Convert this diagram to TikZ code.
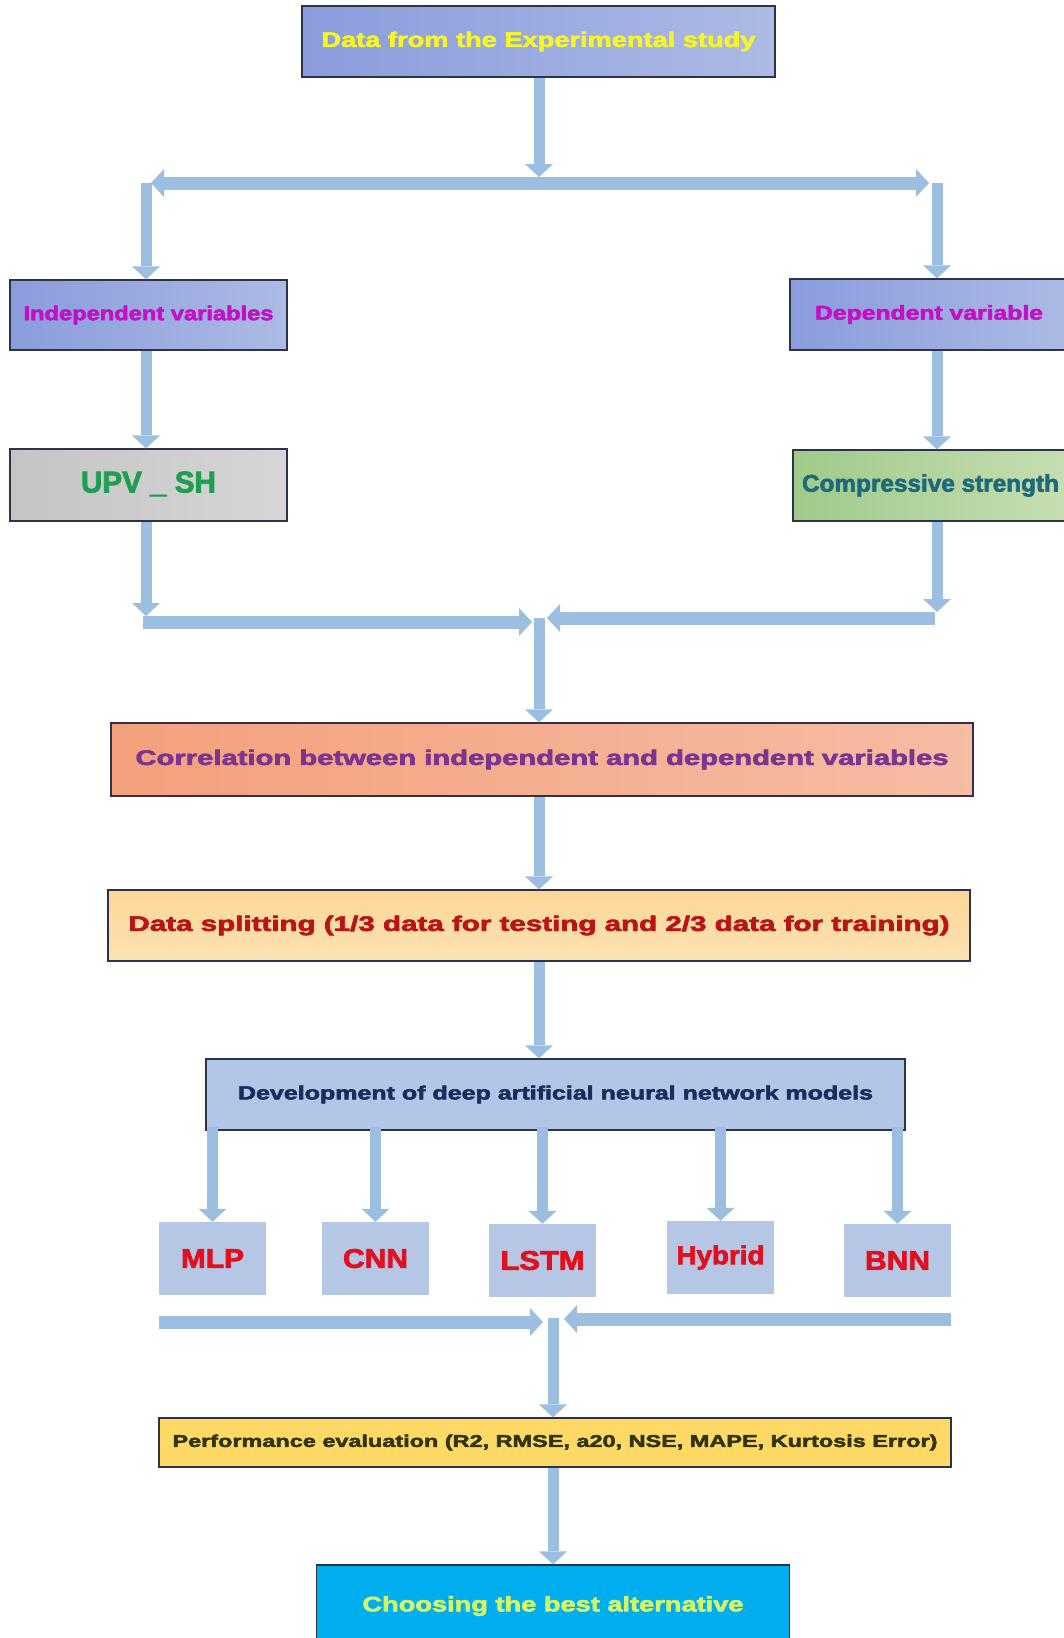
\documentclass[tikz,border=0pt]{standalone}
\usepackage{fontspec}
\setmainfont{Liberation Sans}
\newfontfamily\hv{Liberation Sans}[BoldFeatures={FakeBold=2.5}]
\usepackage{graphicx}
\usetikzlibrary{arrows.meta}

\definecolor{arr}{RGB}{155,190,225}
\definecolor{edge}{RGB}{45,50,75}
\definecolor{perL}{RGB}{138,156,220}
\definecolor{perR}{RGB}{172,186,228}
\definecolor{grayL}{RGB}{196,196,196}
\definecolor{grayR}{RGB}{214,214,214}
\definecolor{grnL}{RGB}{160,202,138}
\definecolor{grnR}{RGB}{198,222,178}
\definecolor{salL}{RGB}{244,160,124}
\definecolor{salR}{RGB}{246,188,164}
\definecolor{peachT}{RGB}{252,214,150}
\definecolor{peachB}{RGB}{252,226,180}
\definecolor{devfill}{RGB}{180,198,231}
\definecolor{modfill}{RGB}{182,199,230}
\definecolor{goldfill}{RGB}{255,217,102}
\definecolor{cyanfill}{RGB}{0,174,239}
\definecolor{tyellow}{RGB}{245,245,40}
\definecolor{tmagenta}{RGB}{196,16,196}
\definecolor{tgreen}{RGB}{30,158,78}
\definecolor{tteal}{RGB}{31,106,122}
\definecolor{tpurple}{RGB}{122,53,144}
\definecolor{tdred}{RGB}{186,20,20}
\definecolor{tnavy}{RGB}{28,43,94}
\definecolor{tred}{RGB}{224,16,30}
\definecolor{tolive}{RGB}{50,52,10}
\definecolor{tlime}{RGB}{212,244,106}

\newcommand\fitt[3]{\resizebox{#1pt}{\height}{\fontsize{#2}{#2}\hv\bfseries #3}}

\tikzset{
  box/.style={draw=edge, line width=1.3pt, inner sep=0pt, align=center},
  modbox/.style={fill=modfill, inner sep=0pt, minimum width=107pt, minimum height=73pt, text=tred},
  conn/.style={draw=arr, line width=11pt, -{Triangle[width=28pt,length=13pt,line width=0pt]}},
  bararrow/.style={draw=arr, line width=13pt, -{Triangle[width=28pt,length=13pt,line width=0pt]}}
}

\begin{document}
\begin{tikzpicture}[x=1pt,y=-1pt]
\useasboundingbox (0,0) rectangle (1064,1638);
\clip (0,0) rectangle (1064,1638);
\fill[white] (0,0) rectangle (1064,1638);

% nodes
\node[box, left color=perL, right color=perR, minimum width=473pt, minimum height=71pt, text=tyellow] (top) at (538.5,41.5) {\fitt{434}{21}{Data from the Experimental study}};

\node[box, left color=perL, right color=perR, minimum width=277pt, minimum height=70pt, text=tmagenta] (indep) at (148.5,315) {\fitt{250}{20}{Independent variables}};
\node[box, left color=perL, right color=perR, minimum width=278pt, minimum height=71pt, text=tmagenta] (dep) at (929,314.5) {\fitt{228}{20}{Dependent variable}};

\node[box, left color=grayL, right color=grayR, minimum width=277pt, minimum height=72pt, text=tgreen] (upv) at (148.5,485) {\raisebox{6pt}{\fitt{135}{30}{UPV \_ SH}}};
\node[box, left color=grnL, right color=grnR, minimum width=275pt, minimum height=71pt, text=tteal] (comp) at (930.5,485.5) {\fitt{257}{24}{Compressive strength}};

\node[box, left color=salL, right color=salR, minimum width=862pt, minimum height=73pt, text=tpurple] (corr) at (542,759.5) {\fitt{813}{21}{Correlation between independent and dependent variables}};

\node[box, top color=peachT, bottom color=peachB, minimum width=862pt, minimum height=71pt, text=tdred] (split) at (539,925.5) {\fitt{821}{21}{Data splitting (1/3 data for testing and 2/3 data for training)}};

\node[box, fill=devfill, minimum width=699pt, minimum height=71pt, text=tnavy] (dev) at (555.5,1094.5) {\fitt{635}{19}{Development of deep artificial neural network models}};

\node[modbox] (mlp) at (212.5,1258.5) {\fitt{63}{27}{MLP}};
\node[modbox] (cnn) at (375.5,1258.5) {\fitt{65}{27}{CNN}};
\node[modbox] (lstm) at (542.5,1260.5) {\fitt{84}{27}{LSTM}};
\node[modbox] (hyb) at (720.5,1257.5) {\fitt{88}{26}{Hybrid}};
\node[modbox] (bnn) at (897.5,1260.5) {\fitt{65}{27}{BNN}};

\node[box, fill=goldfill, minimum width=792pt, minimum height=49pt, text=tolive] (perf) at (555,1442.5) {\fitt{765}{17}{Performance evaluation (R2, RMSE, a20, NSE, MAPE, Kurtosis Error)}};

\node[box, fill=cyanfill, minimum width=473pt, minimum height=82pt, text=tlime] (choose) at (553,1606) {\raisebox{1pt}{\fitt{381}{21}{Choosing the best alternative}}};

% junction coordinates
\coordinate (j1) at (539,183);
\coordinate (jL) at (151,183);
\coordinate (jR) at (929,183);
\coordinate (dL) at (146,183);
\coordinate (dR) at (937,183);

\coordinate (uL) at (146,616);
\coordinate (uR) at (937,612);
\coordinate (bL0) at (143,622);
\coordinate (bL1) at (532,622);
\coordinate (bR0) at (935,618);
\coordinate (bR1) at (547,618);
\coordinate (m1) at (539,618);

\coordinate (cL0) at (159,1322);
\coordinate (cL1) at (543,1322);
\coordinate (cR0) at (951,1319);
\coordinate (cR1) at (564,1319);
\coordinate (m2) at (553,1318);

% connectors: top split
\draw[conn] (top.south -| j1) -- ([yshift=6pt]j1);
\draw[bararrow] (j1) -- (jL);
\draw[bararrow] (j1) -- (jR);
\draw[conn] (dL) -- (dL |- indep.north);
\draw[conn] (dR) -- (dR |- dep.north);

\draw[conn] (dL |- indep.south) -- (dL |- upv.north);
\draw[conn] (dR |- dep.south) -- (dR |- comp.north);

% merge to correlation
\draw[conn] (dL |- upv.south) -- (uL);
\draw[conn] (dR |- comp.south) -- (uR);
\draw[bararrow] (bL0) -- (bL1);
\draw[bararrow] (bR0) -- (bR1);
\draw[conn] (m1) -- (m1 |- corr.north);

\draw[conn] (m1 |- corr.south) -- (m1 |- split.north);
\draw[conn] (m1 |- split.south) -- (m1 |- dev.north);

% branches to models
\draw[conn] ([yshift=4pt]mlp.north |- dev.south) -- (mlp.north);
\draw[conn] ([yshift=4pt]cnn.north |- dev.south) -- (cnn.north);
\draw[conn] ([yshift=4pt]lstm.north |- dev.south) -- (lstm.north);
\draw[conn] ([yshift=4pt]hyb.north |- dev.south) -- (hyb.north);
\draw[conn] ([yshift=4pt]bnn.north |- dev.south) -- (bnn.north);

% merge to performance
\draw[bararrow] (cL0) -- (cL1);
\draw[bararrow] (cR0) -- (cR1);
\draw[conn] (m2) -- (m2 |- perf.north);
\draw[conn] (m2 |- perf.south) -- (m2 |- choose.north);
\end{tikzpicture}
\end{document}
